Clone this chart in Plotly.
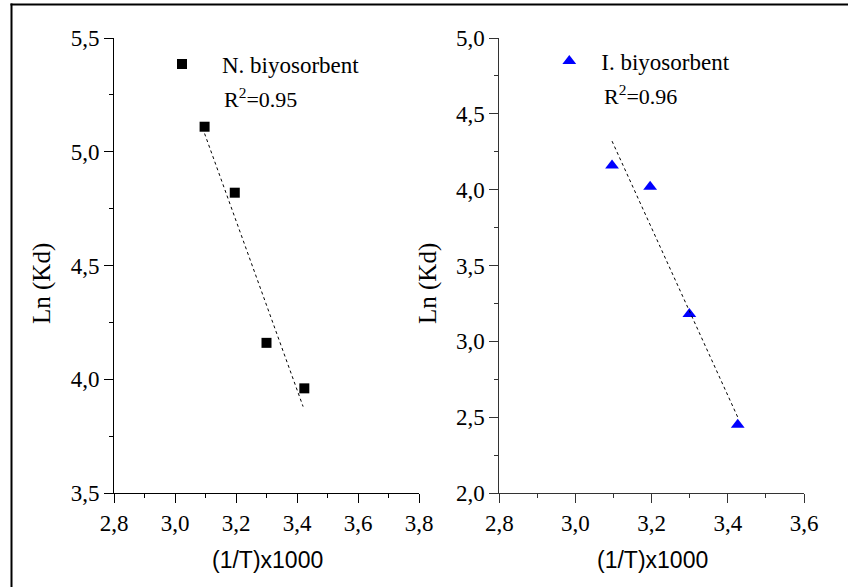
import plotly.graph_objects as go

# ---------------- data ----------------
n_inv_T = [3.097, 3.196, 3.300, 3.424]          # (1/T)x1000, N. biyosorbent
n_ln_kd = [5.11, 4.82, 4.16, 3.96]              # Ln(Kd), N. biyosorbent
n_fit_x = [3.097, 3.420]                        # fitted line ends
n_fit_y = [5.08, 3.88]

i_inv_T = [3.096, 3.196, 3.299, 3.426]          # (1/T)x1000, I. biyosorbent
i_ln_kd = [4.16, 4.02, 3.18, 2.45]              # Ln(Kd), I. biyosorbent
i_fit_x = [3.096, 3.426]
i_fit_y = [4.32, 2.50]

n_label = "N. biyosorbent"
i_label = "I. biyosorbent"
n_r2 = "R<sup>2</sup>=0.95"
i_r2 = "R<sup>2</sup>=0.96"
x_title = "(1/T)x1000"
y_title = "Ln (Kd)"

W, H = 848, 587
def fx(p):
    return p / W
def fy(p):
    return 1 - p / H

SERIF = "Liberation Serif, Times New Roman, serif"
SANS = "Liberation Sans, Arial, sans-serif"

fig = go.Figure()

fig.add_trace(go.Scatter(
    x=n_inv_T, y=n_ln_kd, mode="markers", name=n_label,
    marker=dict(symbol="square", size=10, color="black"),
    xaxis="x", yaxis="y", legend="legend"))
fig.add_trace(go.Scatter(
    x=n_fit_x, y=n_fit_y, mode="lines", showlegend=False,
    line=dict(color="black", width=1, dash="dot"),
    xaxis="x", yaxis="y"))

fig.add_trace(go.Scatter(
    x=i_inv_T, y=i_ln_kd, mode="markers", name=i_label,
    marker=dict(symbol="triangle-up", size=12, color="#0000ff"),
    xaxis="x2", yaxis="y2", legend="legend2"))
fig.add_trace(go.Scatter(
    x=i_fit_x, y=i_fit_y, mode="lines", showlegend=False,
    line=dict(color="black", width=1, dash="dot"),
    xaxis="x2", yaxis="y2"))

def axis_common(color="black"):
    return dict(
        showline=True, linecolor=color, linewidth=1, automargin=False,
        ticks="outside", ticklen=9, tickwidth=1, tickcolor=color,
        showgrid=False, zeroline=False, tickformat=".1f",
        tickfont=dict(family=SERIF, size=23, color="black"),
    )

ydom = [fy(493), fy(38)]

fig.update_layout(
    template="none",
    width=W, height=H,
    margin=dict(l=0, r=0, t=0, b=0, pad=0),
    paper_bgcolor="white", plot_bgcolor="white",
    separators=",.",
    xaxis=dict(domain=[fx(114), fx(419)], anchor="y", range=[2.8, 3.8],
               tick0=2.8, dtick=0.2,
               minor=dict(ticks="outside", ticklen=4, dtick=0.1, tickcolor="black", showgrid=False),
               **axis_common()),
    yaxis=dict(domain=ydom, anchor="x", range=[3.5, 5.5],
               tick0=3.5, dtick=0.5,
               minor=dict(ticks="outside", ticklen=4, dtick=0.25, tickcolor="black", showgrid=False),
               **axis_common()),
    xaxis2=dict(domain=[fx(499.3), fx(804)], anchor="y2", range=[2.8, 3.6],
                tick0=2.8, dtick=0.2,
                minor=dict(ticks="outside", ticklen=4, dtick=0.1, tickcolor="#333", showgrid=False),
                **axis_common("#333")),
    yaxis2=dict(domain=ydom, anchor="x2", range=[2.0, 5.0],
                tick0=2.0, dtick=0.5,
                minor=dict(ticks="outside", ticklen=4, dtick=0.25, tickcolor="#333", showgrid=False),
                **axis_common("#333")),
    legend=dict(x=fx(142), y=fy(64), xanchor="left", yanchor="middle",
                itemwidth=70,
                bgcolor="rgba(0,0,0,0)", borderwidth=0,
                font=dict(family=SERIF, size=23, color="black")),
    legend2=dict(x=fx(537.3), y=fy(61), xanchor="left", yanchor="middle",
                 itemwidth=54,
                 bgcolor="rgba(0,0,0,0)", borderwidth=0,
                 font=dict(family=SERIF, size=23, color="black")),
    showlegend=True,
)

ann = []
ann.append(dict(text=n_r2, x=fx(222), y=fy(98), xanchor="left", yanchor="middle"))
ann.append(dict(text=i_r2, x=fx(601.5), y=fy(95), xanchor="left", yanchor="middle"))
for a in ann:
    a.update(xref="paper", yref="paper", showarrow=False,
             font=dict(family=SERIF, size=22, color="black"))
titles = [
    dict(text=x_title, x=fx(267), y=fy(560), font=dict(family=SANS, size=23, color="black")),
    dict(text=x_title, x=fx(652), y=fy(560), font=dict(family=SANS, size=23, color="black")),
    dict(text=y_title, x=fx(42), y=fy(284), textangle=-90, font=dict(family=SERIF, size=25, color="black")),
    dict(text=y_title, x=fx(428), y=fy(284), textangle=-90, font=dict(family=SERIF, size=25, color="black")),
]
for t in titles:
    t.update(xref="paper", yref="paper", showarrow=False, xanchor="center", yanchor="middle")
fig.update_layout(annotations=ann + titles)

# outer frame (left and top edges)
fig.add_shape(type="line", xref="paper", yref="paper",
              x0=fx(11.5), x1=fx(11.5), y0=0, y1=fy(3.5), line=dict(color="black", width=2))
fig.add_shape(type="line", xref="paper", yref="paper",
              x0=fx(10.5), x1=1, y0=fy(4.5), y1=fy(4.5), line=dict(color="black", width=2))

fig.write_html("out.html")
